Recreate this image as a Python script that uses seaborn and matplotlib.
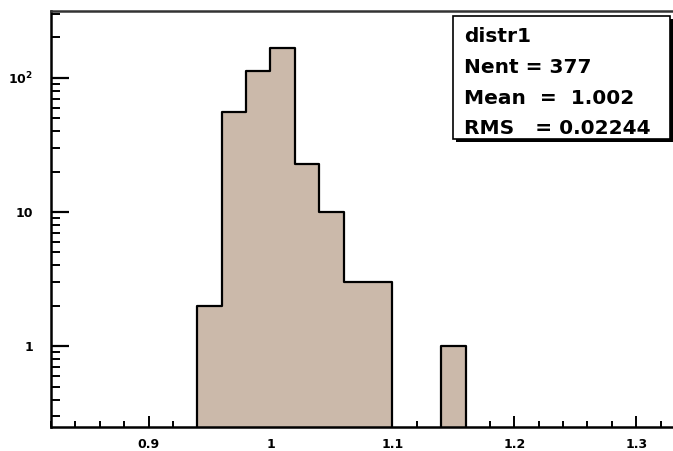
import numpy as np
import pandas as pd
import matplotlib
matplotlib.use("Agg")
import matplotlib.pyplot as plt
from matplotlib.patches import Rectangle
from matplotlib.ticker import FixedLocator, FixedFormatter, MultipleLocator
import seaborn as sns

# Histogram data (bin width 0.02)
bin_centers = [0.95, 0.97, 0.99, 1.01, 1.03, 1.05, 1.07, 1.09, 1.11, 1.13, 1.15]
counts = [2, 56, 112, 167, 23, 10, 3, 3, 0, 0, 1]
bin_width = 0.02

# Stats box text
stats_lines = ["distr1", "Nent = 377", "Mean  =  1.002", "RMS   = 0.02244"]

FILL = "#cbb9aa"

sns.set_style("white")
plt.rcParams["font.family"] = ["DejaVu Sans"]
plt.rcParams["mathtext.fontset"] = "custom"
plt.rcParams["mathtext.rm"] = "DejaVu Sans:bold"
plt.rcParams["mathtext.bf"] = "DejaVu Sans:bold"

df = pd.DataFrame({"x": bin_centers, "n": counts})
edges = [round(c - bin_width / 2, 4) for c in bin_centers] + [round(bin_centers[-1] + bin_width / 2, 4)]

fig = plt.figure(figsize=(6.73, 4.51), dpi=100)
ax = fig.add_axes([51 / 673, 24 / 451, 634 / 673, 416 / 451])

sns.histplot(data=df, x="x", weights="n", bins=edges, element="step", fill=True,
             color=FILL, alpha=1.0, edgecolor="black", linewidth=1.6, ax=ax)

ax.set_yscale("log")
ax.set_xlim(0.82, 1.34)
ax.set_ylim(0.25, 315)
ax.set_xlabel("")
ax.set_ylabel("")

# ticks
ax.xaxis.set_major_locator(FixedLocator([0.9, 1.0, 1.1, 1.2, 1.3]))
ax.xaxis.set_major_formatter(FixedFormatter(["0.9", "1", "1.1", "1.2", "1.3"]))
ax.xaxis.set_minor_locator(MultipleLocator(0.02))
ax.yaxis.set_major_locator(FixedLocator([1, 10, 100]))
ax.yaxis.set_major_formatter(FixedFormatter(["1", "10", r"$10^{2}$"]))
minor_y = [m * 10 ** e for e in (-1, 0, 1, 2) for m in range(2, 10)]
ax.yaxis.set_minor_locator(FixedLocator(minor_y))
ax.yaxis.set_minor_formatter(FixedFormatter([""] * len(minor_y)))

ax.tick_params(axis="x", which="major", direction="in", length=8, width=1.4,
               labelsize=9, pad=8, labelcolor="black", color="black")
ax.tick_params(axis="x", which="minor", direction="in", length=4.5, width=1.4,
               color="black")
ax.tick_params(axis="y", which="major", direction="in", length=13, width=1.6,
               labelsize=9, pad=13, labelcolor="black", color="black")
ax.tick_params(axis="y", which="minor", direction="in", length=6.5, width=1.4,
               color="black")
ax.tick_params(bottom=True, left=True, which="both")
for lab in ax.get_xticklabels() + ax.get_yticklabels():
    lab.set_fontweight("bold")

for side in ["left", "bottom"]:
    ax.spines[side].set_linewidth(1.8)
    ax.spines[side].set_color("black")
ax.spines["top"].set_linewidth(1.8)
ax.spines["top"].set_color("#333333")
ax.spines["right"].set_visible(False)

# stats box (figure pixel coords -> fraction)
W, H = 673, 451
bx0, by0, bx1, by1 = 453, 16, 670, 139
fig.patches.append(Rectangle((bx0 / W + 3 / W, 1 - (by1 + 3) / H), (bx1 - bx0) / W,
                             (by1 - by0) / H, transform=fig.transFigure,
                             facecolor="black", edgecolor="none", zorder=5))
fig.patches.append(Rectangle((bx0 / W, 1 - by1 / H), (bx1 - bx0) / W, (by1 - by0) / H,
                             transform=fig.transFigure, facecolor="white",
                             edgecolor="black", linewidth=1.2, zorder=6))
for i, line in enumerate(stats_lines):
    fig.text(464 / W, 1 - (37 + 30.5 * i) / H, line, fontsize=14.5, fontweight="bold",
             color="black", va="center", ha="left", zorder=7)

fig.savefig("out.png", dpi=100)
